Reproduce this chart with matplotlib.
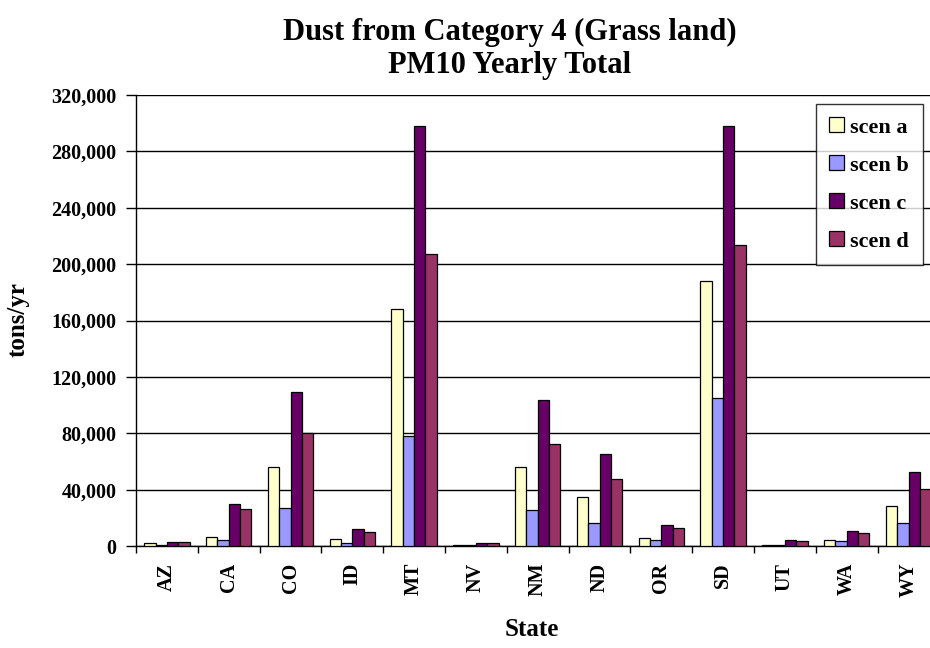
import matplotlib
matplotlib.use("Agg")
import matplotlib.pyplot as plt
from matplotlib.ticker import FuncFormatter, FixedLocator
import numpy as np

states = ["AZ", "CA", "CO", "ID", "MT", "NV", "NM", "ND", "OR", "SD", "UT", "WA", "WY"]
scen_a = [2100, 6700, 56400, 5200, 168000, 500, 55700, 34800, 5900, 188300, 700, 4200, 28500]
scen_b = [700, 4500, 27000, 2400, 78300, 500, 25400, 16200, 4200, 104800, 700, 3300, 16200]
scen_c = [3100, 29600, 109400, 12300, 297700, 2400, 103600, 65600, 14600, 297700, 4200, 10600, 52500]
scen_d = [3100, 26200, 80000, 10200, 207500, 2400, 72200, 47700, 13000, 213900, 3300, 9000, 40500]
series_names = ["scen a", "scen b", "scen c", "scen d"]
colors = ["#FFFFCC", "#9999FF", "#660066", "#993366"]

plt.rcParams['font.family'] = ['Liberation Serif', 'DejaVu Serif']
plt.rcParams['font.weight'] = 'bold'

fig = plt.figure(figsize=(9.3, 6.48), dpi=100)
ax = fig.add_axes([136/930, 102/648, 803.4/930, 451/648])

x = np.arange(len(states))
w = 0.183
for i, (vals, name, col) in enumerate(zip([scen_a, scen_b, scen_c, scen_d], series_names, colors)):
    ax.bar(x + (i - 1.5) * w, vals, width=w, color=col, edgecolor="black",
           linewidth=0.9, label=name, zorder=3)

ax.set_xlim(-0.5, len(states) - 0.5)
ax.set_ylim(0, 320000)
ax.set_yticks(np.arange(0, 320001, 40000))
ax.yaxis.set_major_formatter(FuncFormatter(lambda v, p: f"{int(v):,}"))
ax.grid(axis="y", color="black", linewidth=1, zorder=0)
ax.set_axisbelow(True)

ax.set_xticks(x)
ax.set_xticklabels(states, rotation=90, fontsize=14.5, fontweight="bold")
ax.xaxis.set_minor_locator(FixedLocator(np.arange(-0.5, len(states), 1.0)))
ax.tick_params(axis="x", which="major", length=0, pad=12)
ax.tick_params(axis="x", which="minor", length=5, width=1, direction="out")
ax.tick_params(axis="y", which="major", length=7, width=1, direction="out", labelsize=14.5, pad=7)
for lbl in ax.get_yticklabels():
    lbl.set_fontweight("bold")

for s in ["top", "right"]:
    ax.spines[s].set_visible(False)
ax.spines["left"].set_linewidth(1)
ax.spines["bottom"].set_linewidth(1)

fig.text(18/930, 1 - 320/648, "tons/yr", ha="center", va="center", rotation=90,
         fontsize=18, fontweight="bold")
fig.text(532/930, 1 - 630/648, "State", ha="center", va="center", fontsize=18, fontweight="bold")
fig.text(510/930, 1 - 32/648, "Dust from Category 4 (Grass land)", ha="center", va="center",
         fontsize=22, fontweight="bold")
fig.text(510/930, 1 - 65/648, "PM10 Yearly Total", ha="center", va="center",
         fontsize=22, fontweight="bold")

leg = ax.legend(loc="upper left", bbox_to_anchor=(816/930, 1 - 104/648), bbox_transform=fig.transFigure,
                frameon=True, fancybox=False, edgecolor="black", fontsize=16,
                handlelength=0.65, handleheight=0.65, labelspacing=0.8, handletextpad=0.3,
                borderpad=0.6, borderaxespad=0)
leg.get_frame().set_linewidth(1)
for t in leg.get_texts():
    t.set_fontweight("bold")

fig.savefig("out.png", dpi=100)
